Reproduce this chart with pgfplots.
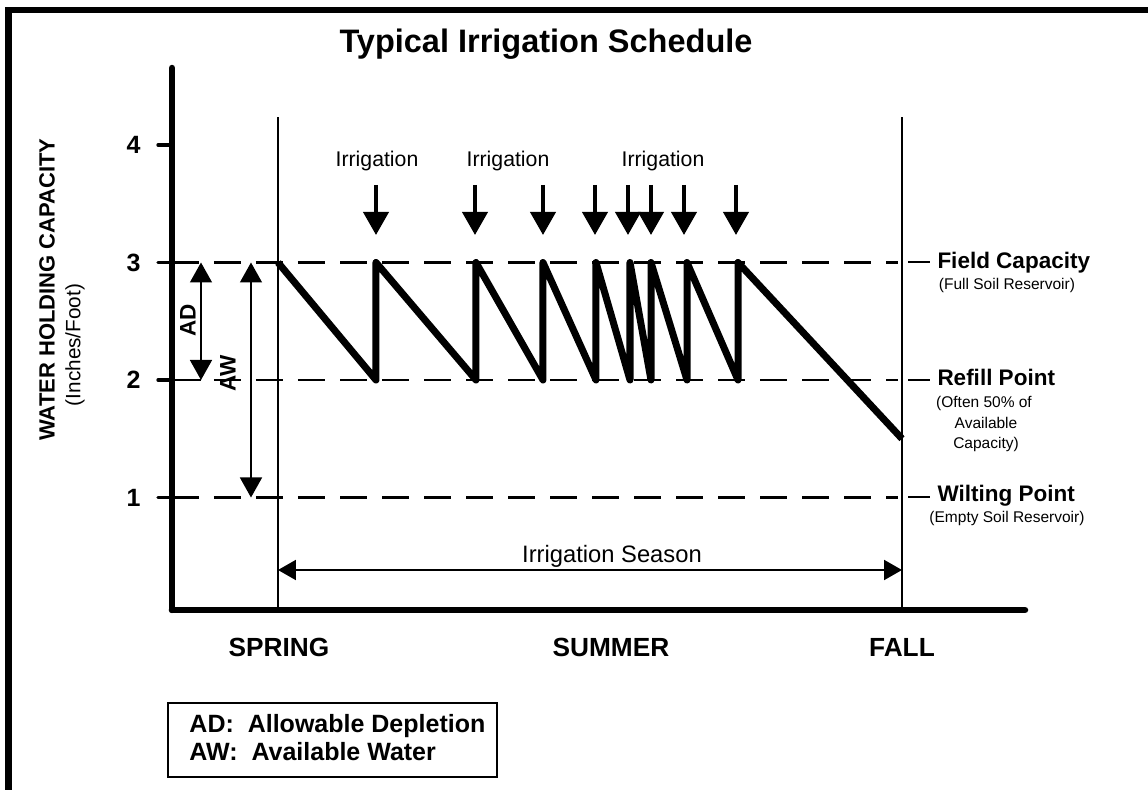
\documentclass[border=0pt]{standalone}
\usepackage{fontspec}
\setmainfont{Liberation Sans}
\usepackage{pgfplots}
\pgfplotsset{compat=1.18}
\usetikzlibrary{arrows.meta}
\newcommand{\fsz}[1]{\fontsize{#1}{#1}\selectfont}
\tikzset{
  big tip/.style={-{Triangle[width=10pt,length=9.2pt]}},
  dim tip/.style={{Triangle[width=8.8pt,length=8pt]}-{Triangle[width=8.8pt,length=8pt]}},
}

\begin{document}
\begin{tikzpicture}
\begin{axis}[
  x=0.4pt, y=47pt,
  xmin=172, xmax=1025, ymin=0.043, ymax=4.655,
  axis x line=bottom, axis y line=left,
  axis line style={line width=2.6pt, line cap=round, -},
  x axis line style={-}, y axis line style={-},
  xtick=\empty, ytick={1,2,3,4},
  tick align=outside, major tick length=5.6pt,
  ytick style={line width=1.3pt, line cap=round, black},
  yticklabel style={font=\bfseries\fsz{10}, xshift=-3.5pt},
  /pgf/number format/assume math mode=true,
  clip=false,
]
% page frame and extent
\path (0,5.234) rectangle (1148,-1.489);
\fill (5,5.174) rectangle (1148,5.123);
\fill (5,5.174) rectangle (12,-1.489);

% reference levels
\addplot[black, dash pattern=on 10.8pt off 6pt, line width=1pt] coordinates {(172,3)(898,3)};
\addplot[black, dash pattern=on 10.8pt off 6pt, line width=1pt] coordinates {(172,2)(898,2)};
\addplot[black, dash pattern=on 10.8pt off 6pt, line width=1pt] coordinates {(172,1)(898,1)};

% season limits
\draw[line width=1pt] (278,4.238) -- (278,0.043);
\draw[line width=1pt] (902,4.238) -- (902,0.043);

% soil water
\addplot[black, line width=2.8pt, line join=round] coordinates {
  (278,3)(376,2)(376,3)(476,2)(476,3)(543,2)(543,3)(596,2)(596,3)
  (630,2)(630,3)(651,2)(651,3)(687,2)(687,3)(738,2)(738,3)(902,1.5)
};

% irrigation events
\pgfplotsinvokeforeach{376,475,543,595,628,651,684,736}{
  \draw[line width=1.6pt, big tip] (#1,3.66) -- (#1,3.234);
}
\node[anchor=base, font=\fsz{8.5}] at (377,3.813) {Irrigation};
\node[anchor=base, font=\fsz{8.5}] at (508,3.813) {Irrigation};
\node[anchor=base, font=\fsz{8.5}] at (663,3.813) {Irrigation};

% AD / AW
\draw[line width=1pt] (172,2) -- (201,2);
\draw[line width=0.6pt, dim tip] (201,3) -- (201,2);
\draw[line width=0.6pt, dim tip] (251,3) -- (251,1);
\node[rotate=90, font=\bfseries\fsz{9}] at (188,2.51) {AD};
\node[rotate=90, font=\bfseries\fsz{9}] at (228,2.06) {AW};

% season
\draw[line width=0.8pt, {Triangle[width=8pt,length=7.2pt]}-{Triangle[width=8pt,length=7.2pt]}]
  (278,0.383) -- (902,0.383);
\node[anchor=base, font=\fsz{9.5}] at (612,0.443) {Irrigation Season};

\node[anchor=base, font=\bfseries\fsz{10.5}] at (279,-0.357) {SPRING};
\node[anchor=base, font=\bfseries\fsz{10.5}] at (611,-0.357) {SUMMER};
\node[anchor=base, font=\bfseries\fsz{10.5}] at (902,-0.357) {FALL};

% right labels
\draw[line width=0.8pt] (908,3) -- (930,3);
\draw[line width=0.8pt] (908,2) -- (930,2);
\draw[line width=0.8pt] (908,1) -- (930,1);
\node[anchor=base west, inner sep=0pt, font=\bfseries\fsz{9}] at (937,2.953) {Field Capacity};
\node[anchor=base, font=\fsz{6.2}] at (1007,2.766) {(Full Soil Reservoir)};
\node[anchor=base west, inner sep=0pt, font=\bfseries\fsz{9}] at (937,1.949) {Refill Point};
\node[anchor=base, font=\fsz{6.2}] at (984,1.762) {(Often 50\% of};
\node[anchor=base, font=\fsz{6.2}] at (986,1.591) {Available};
\node[anchor=base, font=\fsz{6.2}] at (986,1.421) {Capacity)};
\node[anchor=base west, inner sep=0pt, font=\bfseries\fsz{9}] at (937,0.962) {Wilting Point};
\node[anchor=base, font=\fsz{6.2}] at (1007,0.783) {(Empty Soil Reservoir)};

% titles
\node[anchor=base, font=\bfseries\fsz{13}] at (546,4.783) {Typical Irrigation Schedule};
\node[rotate=90, font=\bfseries\fsz{8.8}] at (47,2.77) {WATER HOLDING CAPACITY};
\node[rotate=90, font=\fsz{8.3}] at (75,2.298) {(Inches/Foot)};

% key
\draw[line width=0.6pt] (168,-0.749) rectangle (497,-1.379);
\node[anchor=base west, inner sep=0pt, font=\bfseries\fsz{10}] at (189,-1.004) {AD:\ \ Allowable Depletion};
\node[anchor=base west, inner sep=0pt, font=\bfseries\fsz{10}] at (189,-1.234) {AW:\ \ Available Water};
\end{axis}
\end{tikzpicture}
\end{document}
